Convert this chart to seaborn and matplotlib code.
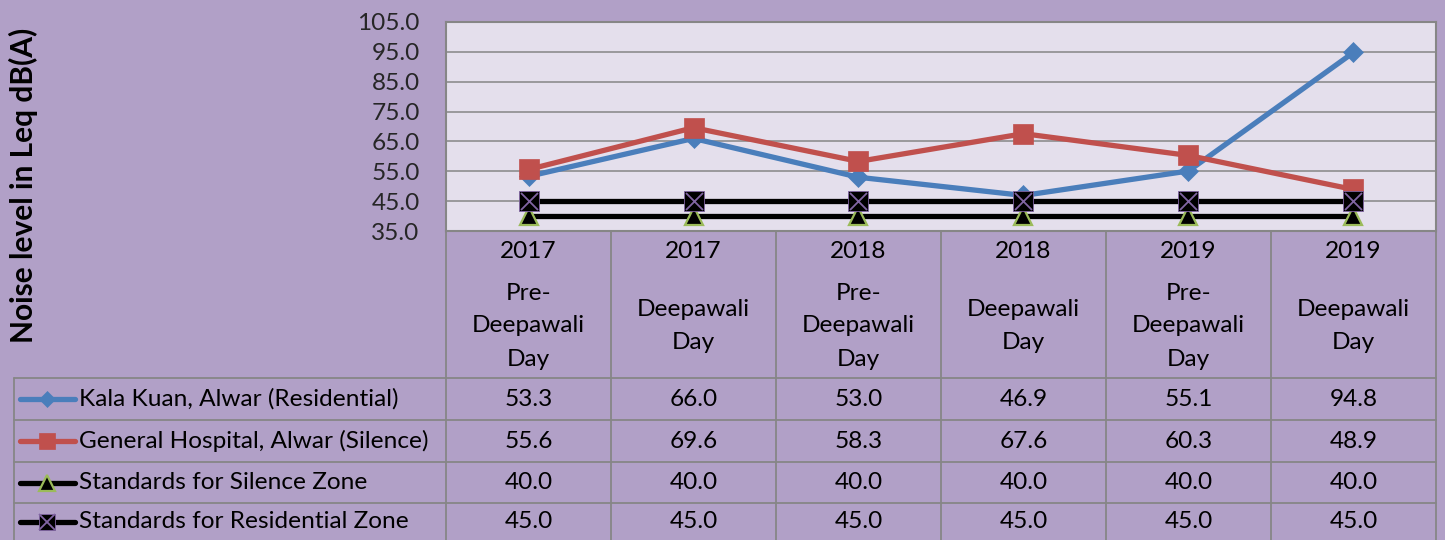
import matplotlib
matplotlib.use("Agg")
import matplotlib.pyplot as plt
import seaborn as sns
import numpy as np
import pandas as pd
from matplotlib import transforms
from matplotlib.lines import Line2D

# ---------------- data ----------------
years = ["2017", "2017", "2018", "2018", "2019", "2019"]
events = ["Pre-\nDeepawali\nDay", "Deepawali\nDay",
          "Pre-\nDeepawali\nDay", "Deepawali\nDay",
          "Pre-\nDeepawali\nDay", "Deepawali\nDay"]
series_names = ["Kala Kuan, Alwar (Residential)",
                "General Hospital, Alwar (Silence)",
                "Standards for Silence Zone",
                "Standards for Residential Zone"]
kala_kuan = [53.3, 66.0, 53.0, 46.9, 55.1, 94.8]
general_hospital = [55.6, 69.6, 58.3, 67.6, 60.3, 48.9]
silence_std = [40.0, 40.0, 40.0, 40.0, 40.0, 40.0]
residential_std = [45.0, 45.0, 45.0, 45.0, 45.0, 45.0]
y_ticks = [35, 45, 55, 65, 75, 85, 95, 105]

all_values = [kala_kuan, general_hospital, silence_std, residential_std]

# ---------------- style ----------------
sns.set_theme(style="white")
plt.rcParams["font.family"] = ["Lato", "DejaVu Sans"]

BG = "#B1A0C7"
PLOT_BG = "#E4DFEC"
GRID = "#868686"
BLUE = "#4A7EBB"
RED = "#C0504D"
GREEN = "#9BBB59"
PURPLE = "#8064A2"
FS = 17.6

styles = [
    dict(color=BLUE, marker="D", markersize=10, markerfacecolor=BLUE,
         markeredgecolor=BLUE, markeredgewidth=0.5),
    dict(color=RED, marker="s", markersize=14, markerfacecolor=RED,
         markeredgecolor=RED, markeredgewidth=0.5),
    dict(color="black", marker="^", markersize=13, markerfacecolor="black",
         markeredgecolor=GREEN, markeredgewidth=1.6),
    dict(color="black", marker="s", markersize=14, markerfacecolor="black",
         markeredgecolor=PURPLE, markeredgewidth=0.6),
]

fig = plt.figure(figsize=(14.45, 5.4), dpi=100, facecolor=BG)

# table / layout axes in pixel units
tax = fig.add_axes([0, 0, 1, 1])
tax.set_xlim(0, 1445)
tax.set_ylim(540, 0)
tax.axis("off")

# main chart axes
ax = fig.add_axes([446 / 1445, 1 - 231 / 540, 990 / 1445, 209 / 540])
ax.set_facecolor(PLOT_BG)

pos = np.arange(len(years))
for i, (vals, st) in enumerate(zip(all_values, styles)):
    df = pd.DataFrame({"pos": pos, "value": vals})
    sns.lineplot(data=df, x="pos", y="value", ax=ax, linewidth=3.8,
                 errorbar=None, legend=False, zorder=3 + i, **st)
# purple cross over the residential standard markers
df_res = pd.DataFrame({"pos": pos, "value": residential_std})
sns.scatterplot(data=df_res, x="pos", y="value", ax=ax, marker="x",
                color=PURPLE, s=150, linewidth=1.3, zorder=8, legend=False)

ax.set_xlim(-0.5, len(years) - 0.5)
ax.set_ylim(35, 105)
ax.set_yticks(y_ticks)
ax.set_yticklabels([f"{t:.1f}" for t in y_ticks], fontsize=FS)
ax.set_xticks([])
ax.set_xlabel("")
ax.set_ylabel("")
ax.tick_params(axis="y", length=0, pad=19)
ax.grid(axis="y", color=GRID, linewidth=1.1)
ax.grid(axis="x", visible=False)
ax.set_axisbelow(True)
for sp in ax.spines.values():
    sp.set_color(GRID)
    sp.set_linewidth(1.5)

# y label
tax.text(23, 185, "Noise level in Leq dB(A)", rotation=90, ha="center",
         va="center", fontsize=21.5, fontweight="bold", color="black")

# ---------------- data table ----------------
blend = transforms.blended_transform_factory(ax.transData, tax.transData)
header_top = 231
table_top = 378
row_edges = [378, 420, 462, 503, 545]
LW = 1.3

for b in np.arange(-0.5, len(years), 1.0):
    tax.add_line(Line2D([b, b], [header_top, 545], color=GRID, lw=LW,
                        transform=blend))
for y in row_edges:
    tax.plot([14, 1436], [y, y], color=GRID, lw=LW)
tax.plot([14, 14], [table_top, 545], color=GRID, lw=LW)

# header labels
for i, (yr, ev) in enumerate(zip(years, events)):
    tax.text(i, 252, yr, transform=blend, ha="center", va="center",
             fontsize=FS, color="black")
    lines = ev.split("\n")
    n = len(lines)
    for k, ln in enumerate(lines):
        yc = 326 + (k - (n - 1) / 2) * 33
        tax.text(i, yc, ln, transform=blend, ha="center", va="center",
                 fontsize=FS, color="black")

# rows
for r, (name, vals, st) in enumerate(zip(series_names, all_values, styles)):
    yc = (row_edges[r] + row_edges[r + 1]) / 2
    if r == 3:
        yc = 522
    tax.plot([20, 75], [yc, yc], color=st["color"], lw=3.8,
             solid_capstyle="round")
    tax.plot([47], [yc], linestyle="none", marker=st["marker"],
             markersize=st["markersize"] * 0.85,
             markerfacecolor=st["markerfacecolor"],
             markeredgecolor=st["markeredgecolor"],
             markeredgewidth=st["markeredgewidth"])
    if r == 3:
        tax.plot([47], [yc], linestyle="none", marker="x", markersize=11,
                 markeredgecolor=PURPLE, markeredgewidth=1.3)
    tax.text(79, yc, name, ha="left", va="center", fontsize=FS,
             color="black")
    for i, v in enumerate(vals):
        tax.text(i, yc, f"{v:.1f}", transform=blend, ha="center",
                 va="center", fontsize=FS, color="black")

fig.savefig("out.png", dpi=100, facecolor=BG)
